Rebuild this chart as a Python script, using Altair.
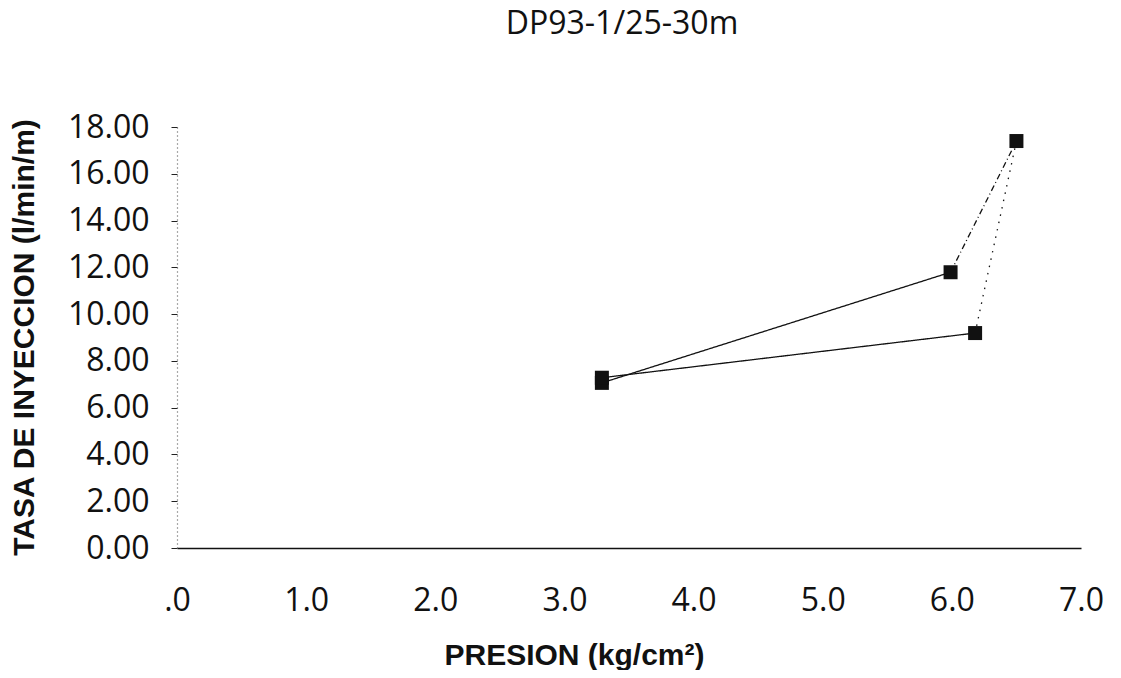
import altair as alt
import pandas as pd

# pressure steps up, then back down
presion = [3.29, 5.99, 6.50, 6.18, 3.29]
tasa = [7.06, 11.79, 17.40, 9.19, 7.28]
# line style of the segment that ends at each point
tramo = ["solid", "dashdot", "dotted", "solid"]

x_ticks = [0, 1, 2, 3, 4, 5, 6, 7]
y_ticks = [0, 2, 4, 6, 8, 10, 12, 14, 16, 18]

pts = pd.DataFrame({"presion": presion, "tasa": tasa})

rows = []
for i, style in enumerate(tramo):
    for k, j in enumerate([i, i + 1]):
        rows.append({"seg": i, "style": style, "ord": k,
                     "presion": presion[j], "tasa": tasa[j]})
segs = pd.DataFrame(rows)

x_enc = alt.X(
    "presion:Q",
    scale=alt.Scale(domain=[0, 7], nice=False, zero=False),
    axis=alt.Axis(
        values=x_ticks,
        labelExpr="datum.value == 0 ? '.0' : format(datum.value, '.1f')",
        labelFlush=False,
        title="PRESION (kg/cm²)",
        titleX=397, titleY=116, titleBaseline="alphabetic",
        titleAnchor="start", titleAlign="center",
        tickSize=0, labelPadding=37,
        domainColor="#111", domainWidth=1.6,
        grid=False,
    ),
)
y_enc = alt.Y(
    "tasa:Q",
    scale=alt.Scale(domain=[0, 18], nice=False),
    axis=alt.Axis(
        values=y_ticks,
        format=".2f",
        title="TASA DE INYECCION (l/min/m)",
        titleX=-144, titleY=210, titleBaseline="alphabetic",
        titleAlign="center", titleAngle=270,
        tickSize=6, tickColor="#222", labelPadding=22,
        domainColor="#555", domainDash=[1, 3], domainWidth=1.2,
        grid=False,
    ),
)

lines = alt.Chart(segs).mark_line(color="#111", strokeWidth=1.3).encode(
    x=x_enc,
    y=y_enc,
    detail="seg:N",
    order="ord:Q",
    strokeDash=alt.StrokeDash(
        "style:N",
        scale=alt.Scale(domain=["solid", "dashdot", "dotted"],
                        range=[[1, 0], [6, 3, 1, 3], [1.5, 6]]),
        legend=None,
    ),
)

squares = alt.Chart(pts).mark_square(size=196, color="#111", opacity=1).encode(
    x="presion:Q",
    y="tasa:Q",
)

chart = (lines + squares).properties(
    width=904,
    height=421,
    autosize=alt.AutoSizeParams(type="none"),
    padding={"left": 169, "top": 119, "right": 30, "bottom": 122},
    title=alt.TitleParams("DP93-1/25-30m", fontSize=32, font="Open Sans",
                          fontWeight="normal", color="#111", dx=-7, offset=70),
).configure_view(stroke=None).configure_axis(
    labelFont="Open Sans", labelFontSize=32, labelColor="#111",
    titleFont="Liberation Sans", titleFontSize=30, titleFontWeight="bold",
    titleColor="#111",
)

chart.save("out.html", embed_options={"renderer": "svg", "actions": False})
